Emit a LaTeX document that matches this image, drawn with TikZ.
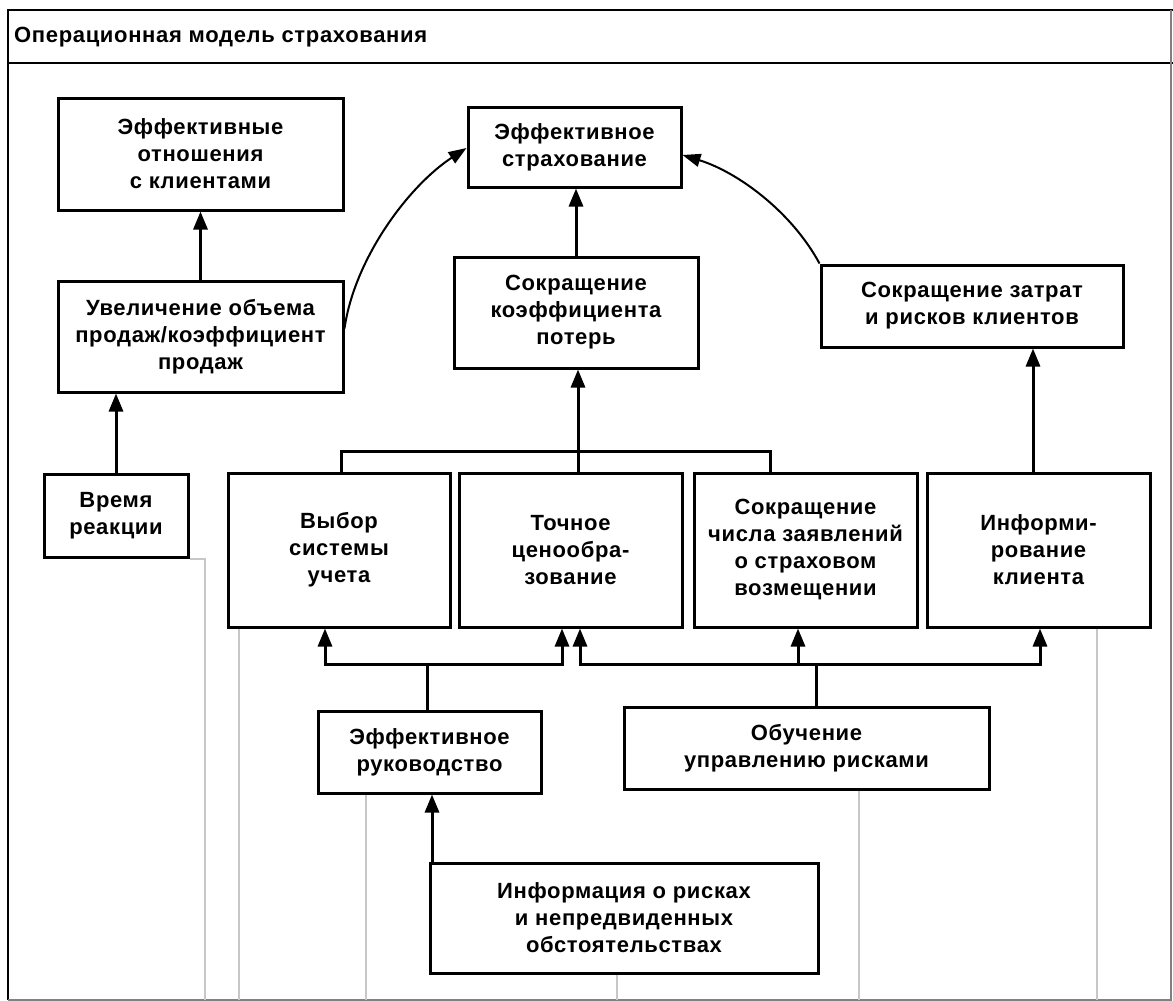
\documentclass[tikz,border=0pt]{standalone}
\usepackage{fontspec}
\setmainfont{Liberation Sans}[LetterSpace=3]
\usetikzlibrary{arrows.meta}
\begin{document}
\begin{tikzpicture}[x=1pt,y=-1pt,
  box/.style={draw, line width=3pt, rectangle, align=center, inner sep=0pt,
     font=\fontsize{22}{27}\selectfont\bfseries},
  conn/.style={line width=3pt},
  arr/.style={line width=3pt, -{Triangle[length=18pt,width=14pt]}},
  curv/.style={line width=2pt, -{Triangle[length=18pt,width=13pt]}},
  gline/.style={line width=2pt, draw=black!22},
]
\useasboundingbox (0,0) rectangle (1173,1001);
\fill[white] (0,0) rectangle (1173,1001);
% frame
\draw[line width=2.5pt] (1173,10) -- (8,10) -- (8,1000);
\draw[line width=2pt] (8,63) -- (1173,63);
\draw[line width=2pt, draw=black!50] (8,1000) -- (1171,1000) -- (1171,10);
\coordinate (bot) at (0,1000);
\node[anchor=west, inner sep=0pt, font=\fontsize{22}{27}\selectfont\bfseries] (title) at (14,37) {Операционная модель страхования};

% boxes
\node[box, minimum width=285pt, minimum height=112pt] (otn) at (200.5,154) {Эффективные\\отношения\\с клиентами};
\node[box, minimum width=285pt, minimum height=111pt] (uvel) at (200.5,336.5) {Увеличение объема\\продаж/коэффициент\\продаж};
\node[box, minimum width=144pt, minimum height=83pt] (vrem) at (116,515.5) {Время\\реакции};
\node[box, minimum width=213pt, minimum height=80pt] (strah) at (574.5,147) {Эффективное\\страхование};
\node[box, minimum width=244pt, minimum height=111pt] (koef) at (576,312.5) {Сокращение\\коэффициента\\потерь};
\node[box, minimum width=302pt, minimum height=82pt] (zatr) at (972,306) {Сокращение затрат\\и рисков клиентов};
\node[box, minimum width=222pt, minimum height=154pt] (vyb) at (339,550) {Выбор\\системы\\учета};
\node[box, minimum width=223pt, minimum height=154pt] (toch) at (570.5,550) {Точное\\ценообра-\\зование};
\node[box, minimum width=223pt, minimum height=154pt] (sokr) at (805.5,550) {Сокращение\\числа заявлений\\о страховом\\возмещении};
\node[box, minimum width=223pt, minimum height=154pt] (inf) at (1038.5,550) {Информи-\\рование\\клиента};
\node[box, minimum width=223pt, minimum height=82pt] (ruk) at (429.5,752) {Эффективное\\руководство};
\node[box, minimum width=365pt, minimum height=82pt] (obuch) at (806.5,748) {Обучение\\управлению рисками};
\node[box, minimum width=388pt, minimum height=110pt] (infr) at (624,918) {Информация о рисках\\и непредвиденных\\обстоятельствах};

% connectors
\draw[arr] (uvel.north) -- (otn.south);
\draw[arr] (vrem.north) -- (vrem.north |- uvel.south);
\draw[arr] (koef.north) -- (koef.north |- strah.south);
\draw[conn] ([xshift=2pt]vyb.north) -- ++(0,-20) -| ([xshift=-35.5pt]sokr.north);
\draw[arr] ([xshift=7.5pt]toch.north) -- ([xshift=7.5pt]toch.north |- koef.south);
\draw[arr] ([xshift=-5.5pt]inf.north) -- ([xshift=-5.5pt]inf.north |- zatr.south);

\draw[conn] ([xshift=-2.5pt]ruk.north) -- ++(0,-45) coordinate (b1);
\draw[arr] (b1) -| ([xshift=-14pt]vyb.south);
\draw[arr] (b1) -| ([xshift=-8.5pt]toch.south);

\draw[conn] ([xshift=9.5pt]obuch.north) -- ++(0,-41) coordinate (b2);
\draw[arr] (b2) -| ([xshift=9.5pt]toch.south);
\draw[arr] (b2) -| ([xshift=-7.5pt]sokr.south);
\draw[arr] (b2) -| ([xshift=1.5pt]inf.south);

\draw[arr] ([xshift=-192pt]infr.north) -- ([xshift=-192pt]infr.north |- ruk.south);

% curves
\draw[curv] ([yshift=8pt]uvel.east) .. controls +(10,-70) and +(-58,38) .. ([yshift=-1pt]strah.west);
\draw[curv] (zatr.north west) .. controls +(-28,-52) and +(55,17) .. ([yshift=-8pt]strah.east);

% grey lines
\draw[gline] (vrem.south east) -- ++(15,0) coordinate (g1) -- (g1 |- bot);
\draw[gline] ([xshift=12pt]vyb.south west) -- ([xshift=12pt]vyb.south west |- bot);
\draw[gline] ([xshift=49pt]ruk.south west) -- ([xshift=49pt]ruk.south west |- bot);
\draw[gline] ([xshift=-7pt]infr.south) -- ([xshift=-7pt]infr.south |- bot);
\draw[gline] ([xshift=52.5pt]obuch.south) -- ([xshift=52.5pt]obuch.south |- bot);
\draw[gline] ([xshift=58.5pt]inf.south) -- ([xshift=58.5pt]inf.south |- bot);
\end{tikzpicture}
\end{document}
